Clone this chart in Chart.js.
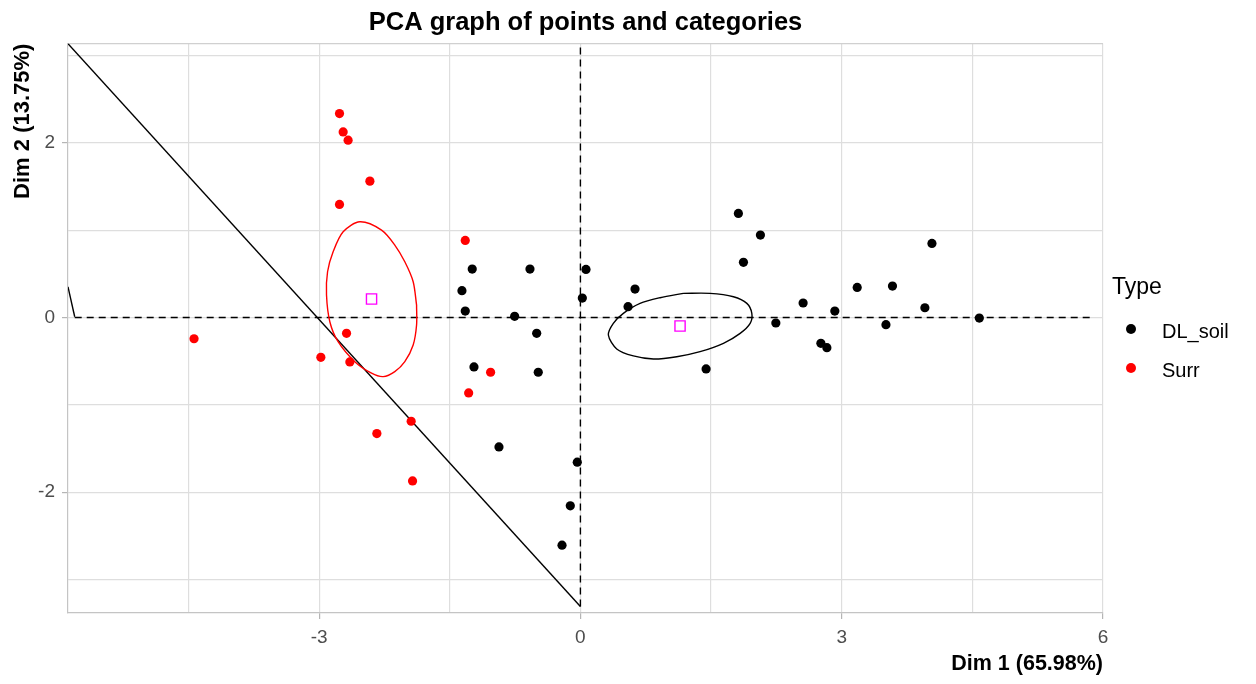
<!DOCTYPE html>
<html>
<head>
<meta charset="utf-8">
<title>PCA graph of points and categories</title>
<script src="https://cdn.jsdelivr.net/npm/chart.js@4.4.1/dist/chart.umd.min.js"></script>
<style>
  body { margin: 0; background: #fff; font-family: "Liberation Sans", Arial, sans-serif; }
  #wrap { position: relative; width: 1256px; height: 684px; }
  #wrap canvas { position: absolute; left: 0; top: 0; }
  .lg { position: absolute; color: #000; white-space: nowrap; }
  .lg-title { left: 1112px; top: 275px; font-size: 23px; line-height: 23px; }
  .lg-text { left: 1162px; font-size: 20px; line-height: 20px; }
  .lg-dot { position: absolute; left: 1126px; width: 10px; height: 10px; border-radius: 50%; }
</style>
</head>
<body>
<div id="wrap">
  <canvas id="pca" width="1256" height="684" style="width:1256px;height:684px"></canvas>
  <div class="lg lg-title">Type</div>
  <span class="lg-dot" style="top:324px;background:#000000"></span>
  <div class="lg lg-text" style="top:321px">DL_soil</div>
  <span class="lg-dot" style="top:363px;background:#FF0000"></span>
  <div class="lg lg-text" style="top:360px">Surr</div>
</div>
<script>
// individuals (Dim 1, Dim 2)
const dlSoilX = [1.814, 2.067, 1.872, -1.242, -0.579, 0.064, 0.627, -1.360, 0.022, 2.557,
  0.547, -1.322, -0.755, 2.244, -0.502, 2.761, 2.830, 1.443, -1.222, -0.484,
  -0.935, -0.036, -0.116, -0.211, 4.036, 3.178, 3.583, 3.955, 2.921, 3.508, 4.580];
const dlSoilY = [1.192, 0.944, 0.632, 0.555, 0.555, 0.551, 0.326, 0.307, 0.223, 0.166,
  0.124, 0.074, 0.014, -0.063, -0.181, -0.295, -0.345, -0.589, -0.566, -0.627,
  -1.482, -1.657, -2.157, -2.607, 0.849, 0.345, 0.360, 0.112, 0.074, -0.082, -0.006];

const surrX = [-2.766, -2.724, -2.667, -2.417, -2.766, -2.685, -4.436, -2.980, -2.647, -2.337,
  -1.943, -1.927, -1.322, -1.031, -1.283];
const surrY = [2.336, 2.126, 2.031, 1.562, 1.295, -0.181, -0.243, -0.456, -0.509, -1.329,
  -1.188, -1.871, 0.883, -0.627, -0.864];

// category centres (Surr, DL_soil)
const centreX = [-2.398, 1.144];
const centreY = [0.212, -0.097];

// confidence ellipses, outline (start on a flat side)
const surrEllX = [-1.881, -1.881, -1.920, -2.016, -2.131, -2.264, -2.398, -2.590, -2.782, -2.877,
  -2.915, -2.903, -2.839, -2.724, -2.532, -2.283, -2.131, -2.016, -1.920, -1.881];
const surrEllY = [0.143, -0.086, -0.315, -0.506, -0.620, -0.677, -0.638, -0.506, -0.277, -0.048,
  0.257, 0.524, 0.753, 0.982, 1.096, 1.001, 0.830, 0.638, 0.410, 0.143];

const dlEllX = [1.182, 1.488, 1.757, 1.911, 1.968, 1.949, 1.834, 1.642, 1.374, 1.106,
  0.838, 0.608, 0.417, 0.321, 0.378, 0.493, 0.685, 0.915, 1.182];
const dlEllY = [0.277, 0.277, 0.238, 0.162, 0.048, -0.066, -0.181, -0.295, -0.391, -0.449,
  -0.475, -0.440, -0.360, -0.200, -0.066, 0.048, 0.162, 0.227, 0.277];

// reference lines
const hLineX = [-5.806, 5.89];
const hLineY = [0, 0];
const vLineX = [0, 0];
const vLineY = [-3.31, 3.12];
const diagX = [-5.883, 0];
const diagY = [3.137, -3.31];
const stubX = [-5.883, -5.806];
const stubY = [0.352, 0.009];

// axes
const xRange = [-5.883, 6];
const yRange = [-3.384, 3.137];
const xTicks = [-3, 0, 3, 6];
const yTicks = [-2, 0, 2];

const FONT = '"Liberation Sans", Arial, sans-serif';
const pts = (xs, ys) => xs.map((x, i) => ({ x: x, y: ys[i] }));

function lineSet(xs, ys, color, dash) {
  return {
    data: pts(xs, ys),
    showLine: true,
    borderColor: color,
    borderWidth: 1.4,
    borderDash: dash || [],
    pointRadius: 0,
    fill: false,
    order: 3
  };
}

// grey line along the top of the panel
const panelTop = {
  id: 'panelTop',
  beforeDatasetsDraw(chart) {
    const { ctx, chartArea } = chart;
    ctx.save();
    ctx.strokeStyle = '#d0d0d0';
    ctx.lineWidth = 1.2;
    ctx.beginPath();
    ctx.moveTo(chartArea.left, chartArea.top);
    ctx.lineTo(chartArea.right, chartArea.top);
    ctx.stroke();
    ctx.restore();
  }
};

const ellSurr = lineSet(surrEllX, surrEllY, '#FF0000');
ellSurr.tension = 0.3;
ellSurr.order = 2;
const ellDl = lineSet(dlEllX, dlEllY, '#000000');
ellDl.tension = 0.3;
ellDl.order = 2;

new Chart(document.getElementById('pca'), {
  type: 'scatter',
  data: {
    datasets: [
      {
        label: 'DL_soil',
        data: pts(dlSoilX, dlSoilY),
        backgroundColor: '#000000',
        borderWidth: 0,
        pointRadius: 4.6,
        order: 1
      },
      {
        label: 'Surr',
        data: pts(surrX, surrY),
        backgroundColor: '#FF0000',
        borderWidth: 0,
        pointRadius: 4.6,
        order: 1
      },
      {
        data: pts(centreX, centreY),
        pointStyle: 'rect',
        pointRadius: 7.2,
        borderColor: '#FF00FF',
        borderWidth: 1.4,
        backgroundColor: 'rgba(0,0,0,0)',
        order: 0
      },
      ellSurr,
      ellDl,
      lineSet(hLineX, hLineY, '#000000', [7, 5]),
      lineSet(vLineX, vLineY, '#000000', [7, 5]),
      lineSet(diagX, diagY, '#000000'),
      lineSet(stubX, stubY, '#000000')
    ]
  },
  options: {
    responsive: false,
    animation: false,
    events: [],
    layout: { padding: { left: 0, right: 153, top: 0, bottom: 0 } },
    scales: {
      x: {
        type: 'linear',
        position: 'bottom',
        min: xRange[0],
        max: xRange[1],
        afterFit: (scale) => { scale.height = 71; },
        ticks: {
          stepSize: 1.5,
          includeBounds: false,
          autoSkip: false,
          maxRotation: 0,
          padding: 7,
          color: '#4d4d4d',
          font: { family: FONT, size: 19 },
          callback: (v) => xTicks.includes(v) ? String(v) : ''
        },
        grid: {
          color: '#dedede',
          lineWidth: 1.2,
          tickLength: 6,
          tickWidth: 1.2,
          tickColor: (c) => (c.tick && xTicks.includes(c.tick.value)) ? '#b5b5b5' : 'rgba(0,0,0,0)'
        },
        border: { display: true, color: '#c4c4c4', width: 1.2 },
        title: {
          display: true,
          text: 'Dim 1 (65.98%)',
          align: 'end',
          color: '#000',
          font: { family: FONT, size: 21.5, weight: 'bold' },
          padding: { top: 4, bottom: 7 }
        }
      },
      y: {
        type: 'linear',
        position: 'left',
        min: yRange[0],
        max: yRange[1],
        afterFit: (scale) => { scale.width = 68; },
        ticks: {
          stepSize: 1,
          includeBounds: false,
          autoSkip: false,
          padding: 7,
          color: '#4d4d4d',
          font: { family: FONT, size: 19 },
          callback: (v) => yTicks.includes(v) ? String(v) : ''
        },
        grid: {
          color: '#dedede',
          lineWidth: 1.2,
          tickLength: 6,
          tickWidth: 1.2,
          tickColor: (c) => (c.tick && yTicks.includes(c.tick.value)) ? '#b5b5b5' : 'rgba(0,0,0,0)'
        },
        border: { display: true, color: '#c4c4c4', width: 1.2 },
        title: {
          display: true,
          text: 'Dim 2 (13.75%)',
          align: 'end',
          color: '#000',
          font: { family: FONT, size: 22, weight: 'bold' },
          padding: { top: 10, bottom: 4 }
        }
      }
    },
    plugins: {
      legend: { display: false },
      tooltip: { enabled: false },
      title: {
        display: true,
        text: 'PCA graph of points and categories',
        fullSize: false,
        color: '#000',
        font: { family: FONT, size: 25.5, weight: 'bold' },
        padding: { top: 8, bottom: 5 }
      }
    }
  },
  plugins: [panelTop]
});
</script>
</body>
</html>
